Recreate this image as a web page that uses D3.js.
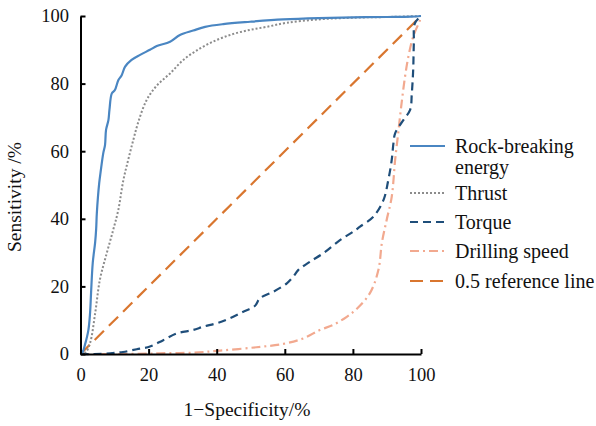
<!DOCTYPE html>
<html>
<head>
<meta charset="utf-8">
<script src="https://cdn.jsdelivr.net/npm/d3@7"></script>
<style>
  html, body { margin: 0; padding: 0; background: #fff; }
  #chart, #chart text { font-family: "Liberation Serif", Tinos, "Times New Roman", serif; }
</style>
</head>
<body>
<svg id="chart" width="596" height="426"></svg>
<script>
// ROC curves: x = 1 - specificity (%), y = sensitivity (%)
const rockX = [0, 0.6, 1.3, 2.3, 2.8, 3.1, 3.6, 4.3, 4.6, 4.8, 5.5, 5.9, 6.7, 7.2, 7.5, 8.2, 8.5, 9.2, 10.1, 11.1, 12.1, 13.1, 15, 17.5, 20.4, 22.4, 26.3, 29.2, 33.1, 36.6, 41.9, 49.8, 59.5, 70, 80, 90, 97, 100];
const rockY = [0, 0.5, 2.7, 7, 12, 18, 27, 33, 37, 41.7, 50.6, 53.8, 59.5, 61.8, 66.3, 69.2, 72.2, 77.1, 78.1, 81, 82.5, 85, 87, 88.5, 90, 91.1, 92.4, 94.4, 95.7, 96.8, 97.6, 98.3, 99, 99.4, 99.6, 99.7, 99.8, 100];

const thrustX = [0, 1.5, 2.8, 4.3, 5.7, 7.7, 9.6, 11.1, 12.6, 14, 15.5, 17, 19.4, 22.4, 26.3, 30.2, 35.1, 40, 44.9, 49.8, 54.7, 60.6, 70, 80, 90, 100];
const thrustY = [0, 0.5, 3.2, 12, 22, 29.8, 36.7, 42.6, 51.5, 57.4, 63.3, 68.7, 75.1, 79.4, 83, 87, 90.4, 92.9, 94.7, 95.9, 96.8, 98, 99, 99.5, 99.7, 100];

const torqueX = [0, 4, 8.7, 12.5, 16.5, 20.4, 24.3, 28.3, 33.1, 36.1, 40, 43.9, 47.8, 51.2, 52.7, 56.6, 60.6, 62.5, 64, 67.4, 71.3, 76.2, 80.1, 82.1, 86, 89, 90.4, 91.4, 91.9, 92.4, 94.8, 96.8, 97.3, 97.7, 97.9, 98.2, 100];
const torqueY = [0, 0, 0.2, 0.6, 1.4, 2.2, 4.1, 6.1, 7.1, 8.1, 9.1, 10.6, 12.5, 14.2, 16.5, 18.4, 20.9, 22.9, 24.9, 27.3, 29.8, 33.7, 36.2, 37.7, 40.6, 45.6, 51.5, 57.4, 62.3, 65.3, 69.2, 72.2, 77.1, 84, 91.9, 97.8, 100];

const speedX = [0, 10, 20, 23.3, 33.1, 41, 51.7, 59.6, 65.4, 70.3, 74.2, 78.2, 81.1, 85, 87.5, 88.5, 89.9, 91.4, 92.4, 93.3, 94.3, 95.3, 96.3, 97.7, 99.7, 100];
const speedY = [0, 0, 0.1, 0.2, 0.4, 1, 2, 3, 4.6, 7.1, 8.6, 11, 13.3, 18, 24.9, 32.8, 39.6, 46.5, 57.4, 65.3, 74.2, 82, 88, 93.9, 98.8, 100];

const refX = [0, 100];
const refY = [0, 100];

const xTicks = [0, 20, 40, 60, 80, 100];
const yTicks = [0, 20, 40, 60, 80, 100];

const legendLabels = [["Rock-breaking", "energy"], ["Thrust"], ["Torque"], ["Drilling speed"], ["0.5 reference line"]];

function draw() {
  const series = [
    { x: refX, y: refY, color: "#d9762f", width: 2.2, dash: "13,7" },
    { x: speedX, y: speedY, color: "#f2a98f", width: 2.2, dash: "9,4,2,4" },
    { x: torqueX, y: torqueY, color: "#1f4e7a", width: 2.2, dash: "8,5" },
    { x: thrustX, y: thrustY, color: "#8c8c8c", width: 2, dash: "2,2" },
    { x: rockX, y: rockY, color: "#4a86c2", width: 2.2, dash: null }
  ];
  const legendStyles = [series[4], series[3], series[2], series[1], series[0]];

  const svg = d3.select("#chart");
  svg.selectAll("*").remove();
  const xScale = d3.scaleLinear().domain([0, 100]).range([80.5, 421]);
  const yScale = d3.scaleLinear().domain([0, 100]).range([354, 16]);

  const straight = d3.line().x(d => xScale(d[0])).y(d => yScale(d[1]));
  const smooth = d3.line().x(d => xScale(d[0])).y(d => yScale(d[1])).curve(d3.curveCatmullRom.alpha(0.5));

  series.forEach((s, i) => {
    const pts = s.x.map((v, k) => [v, s.y[k]]);
    svg.append("path")
      .attr("d", (i === 0 ? straight : smooth)(pts))
      .attr("fill", "none")
      .attr("stroke", s.color)
      .attr("stroke-width", s.width)
      .attr("stroke-dasharray", s.dash);
  });

  // axes with inward ticks
  const xAxis = d3.axisBottom(xScale).tickValues(xTicks).tickSizeInner(-5).tickSizeOuter(0).tickPadding(14);
  const yAxis = d3.axisLeft(yScale).tickValues(yTicks).tickSizeInner(-5).tickSizeOuter(0).tickPadding(11.5);

  const gx = svg.append("g").attr("transform", `translate(0,${yScale(0)})`).call(xAxis);
  const gy = svg.append("g").attr("transform", `translate(${xScale(0)},0)`).call(yAxis);
  [gx, gy].forEach(g => {
    g.attr("font-family", null).attr("font-size", 18.5);
    g.select(".domain").attr("stroke", "#000").attr("stroke-width", 2);
    g.selectAll(".tick line").attr("stroke", "#000").attr("stroke-width", 2);
    g.selectAll(".tick text").attr("fill", "#111");
  });
  gx.selectAll(".tick text").attr("dy", "0.71em");

  // axis titles
  svg.append("text")
    .attr("x", 247).attr("y", 416)
    .attr("text-anchor", "middle")
    .attr("font-size", 19.5).attr("fill", "#111")
    .text("1\u2212Specificity/%");
  svg.append("text")
    .attr("transform", "translate(21,197) rotate(-90)")
    .attr("text-anchor", "middle")
    .attr("font-size", 19.5).attr("fill", "#111")
    .text("Sensitivity /%");

  // legend
  const rowY = [146, 193, 222, 251, 281];
  legendLabels.forEach((lab, i) => {
    const s = legendStyles[i];
    svg.append("line")
      .attr("x1", 410).attr("x2", 445)
      .attr("y1", rowY[i]).attr("y2", rowY[i])
      .attr("stroke", s.color).attr("stroke-width", s.width)
      .attr("stroke-dasharray", s.dash);
    lab.forEach((t, j) => {
      svg.append("text")
        .attr("x", 455).attr("y", rowY[i] + j * 21)
        .attr("dy", "0.35em")
        .attr("font-size", 20).attr("fill", "#111")
        .text(t);
    });
  });
}

draw();
if (document.fonts && document.fonts.load) {
  document.fonts.load('20px "Liberation Serif"').then(draw).catch(() => {});
}
</script>
</body>
</html>
